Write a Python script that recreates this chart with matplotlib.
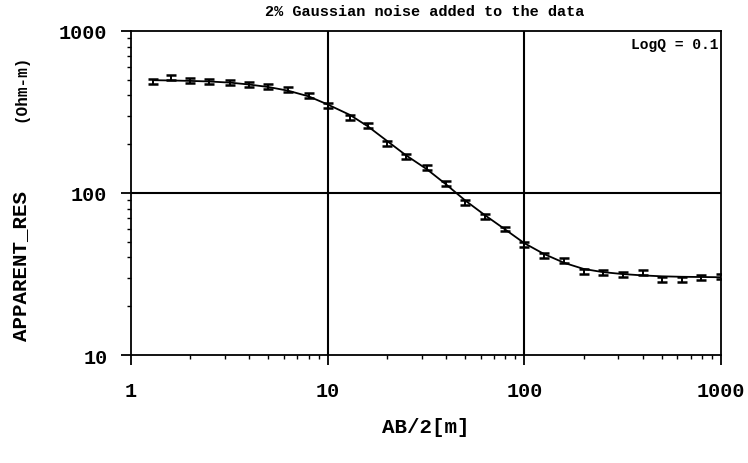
import numpy as np
import matplotlib
matplotlib.use("Agg")
import matplotlib.pyplot as plt
from matplotlib.ticker import FixedLocator, FixedFormatter, NullFormatter, LogLocator

# ---------- data ----------
ab2 = [1.3, 1.6, 2.0, 2.5, 3.2, 4.0, 5.0, 6.3, 8.0, 10,
       13, 16, 20, 25, 32, 40, 50, 63, 80, 100,
       126, 160, 200, 250, 316, 400, 500, 630, 790, 1000]
rho_obs = [489, 515, 493, 486, 484, 467, 456, 433, 399, 349,
           293, 262, 203, 169, 144, 115, 88, 72, 60, 48.4,
           41.4, 38.2, 33.0, 32.4, 31.3, 32.2, 29.3, 29.4, 30.2, 30.4]
rho_fit = [497, 495, 492, 488, 480, 467, 451, 428, 395, 352,
           303, 258, 210, 171, 140, 113, 90, 73, 59.5, 49,
           42, 37, 34, 32.5, 31.6, 31.0, 30.6, 30.4, 30.3, 30.2]
err_frac = 0.035

x_ticks = [1, 10, 100, 1000]
x_labels = ['1', '10', '100', '1000']
y_ticks = [10, 100, 1000]
y_labels = ['10', '100', '1000']

plt.rcParams['font.family'] = ['Liberation Mono', 'DejaVu Sans Mono']
plt.rcParams['font.weight'] = 'bold'

W, H = 748, 464
fig = plt.figure(figsize=(7.48, 4.64), dpi=100)
ax = fig.add_axes([131 / W, 1 - 356 / H, 590 / W, 324 / H])

ax.plot(ab2, rho_fit, color='black', lw=1.3, zorder=3)
yerr = [v * err_frac for v in rho_obs]
ax.errorbar(ab2, rho_obs, yerr=yerr, fmt='none', ecolor='black',
            elinewidth=1.4, capsize=3.5, capthick=1.8, zorder=4)

ax.set_xscale('log')
ax.set_yscale('log')
ax.set_xlim(1, 1000)
ax.set_ylim(10, 1000)

# grid only at decades
for gx in [10, 100]:
    ax.axvline(gx, color='black', lw=1.5, zorder=2)
ax.axhline(100, color='black', lw=1.5, zorder=2)

ax.xaxis.set_major_locator(FixedLocator(x_ticks))
ax.xaxis.set_major_formatter(FixedFormatter(x_labels))
ax.yaxis.set_major_locator(FixedLocator(y_ticks))
ax.yaxis.set_major_formatter(FixedFormatter(y_labels))
ax.xaxis.set_minor_locator(LogLocator(base=10, subs=np.arange(2, 10)))
ax.yaxis.set_minor_locator(LogLocator(base=10, subs=np.arange(2, 10)))
ax.xaxis.set_minor_formatter(NullFormatter())
ax.yaxis.set_minor_formatter(NullFormatter())

ax.tick_params(which='major', direction='out', length=7, width=1.3,
               labelsize=14.5)
ax.tick_params(axis='y', which='major', pad=10)
ax.tick_params(axis='x', which='major', pad=12)
ax.tick_params(which='minor', direction='out', length=3, width=1.0)
for sp in ax.spines.values():
    sp.set_linewidth(1.3)

ax.set_xlabel('AB/2[m]', fontsize=15, fontweight='bold', labelpad=12)
fig.text(21 / W, 1 - 266 / H, 'APPARENT_RES', rotation=90, ha='center', va='center',
         fontsize=15, fontweight='bold')
fig.text(21 / W, 1 - 88 / H, '(Ohm-m)', rotation=90, ha='center', va='center',
         fontsize=11.5, fontweight='bold')
fig.text(425 / W, 1 - 12 / H, '2% Gaussian noise added to the data', ha='center',
         va='center', fontsize=11, fontweight='bold')
ax.text(0.995, 0.982, 'LogQ = 0.1', transform=ax.transAxes, ha='right', va='top',
        fontsize=10.5, fontweight='bold')

fig.savefig('out.png', dpi=100)
